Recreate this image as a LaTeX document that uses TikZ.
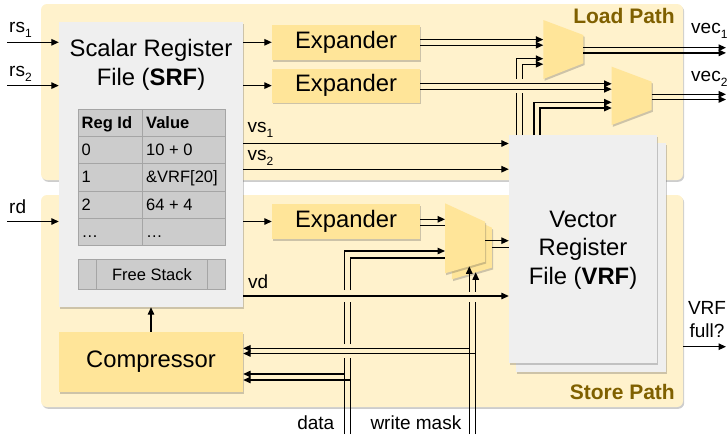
\documentclass[tikz,border=0pt]{standalone}
\usepackage{fontspec}
\setmainfont{Liberation Sans}
\usetikzlibrary{arrows.meta,shadows,calc}
\definecolor{cPanel}{HTML}{FFF2CC}
\definecolor{cYel}{HTML}{FFE599}
\definecolor{cGray}{HTML}{EFEFEF}
\definecolor{cTbl}{HTML}{CCCCCC}
\definecolor{cTblLine}{HTML}{A5A5A5}
\definecolor{cPath}{HTML}{7F6000}
\newcommand{\sbs}[1]{\raisebox{-5pt}{\fontsize{12}{12}\selectfont #1}}
\tikzset{
 shd/.style={drop shadow={shadow xshift=1.2pt,shadow yshift=-1.8pt,opacity=0.28,fill=black!70}},
 panelbox/.style={rectangle, rounded corners=6pt, fill=cPanel, inner sep=0pt, shd},
 graybox/.style={rectangle, fill=cGray, inner sep=0pt, shd},
 yelbox/.style={rectangle, fill=cYel, inner sep=0pt, shd, font=\fontsize{23.8}{29}\selectfont},
 wire/.style={line width=1.3pt, black},
 arr/.style={wire, -{Triangle[length=7.5pt,width=6.5pt]}},
 big/.style={font=\fontsize{23.8}{29}\selectfont, inner sep=0pt},
 lbl/.style={font=\fontsize{19}{23}\selectfont, inner sep=0pt, anchor=base west},
 tab/.style={font=\fontsize{16.5}{20}\selectfont, inner sep=0pt, anchor=base west},
 plbl/.style={font=\fontsize{21}{25}\selectfont\bfseries, text=cPath, inner sep=0pt, anchor=base east},
 tline/.style={draw=cTblLine, line width=1pt},
}
\begin{document}
\begin{tikzpicture}[x=1pt,y=-1pt]
\useasboundingbox (0,0) rectangle (727,434);
% panels
\node[panelbox, minimum width=642pt, minimum height=176pt] (load) at (362,92) {};
\node[panelbox, minimum width=642pt, minimum height=212pt] (store) at (362,301) {};
\node[plbl] (loadlbl) at (675,23) {Load Path};
\node[plbl] (storelbl) at (675,399) {Store Path};

% SRF
\node[graybox, minimum width=184pt, minimum height=285pt] (srf) at (151,164.5) {};
\node[big, align=center] (srftitle) at (151,65) {Scalar Register\\File (\textbf{SRF})};
% table
\fill[cTbl] (78.3,109.3) rectangle (225.7,245.8);
\draw[tline] (78.3,109.3) rectangle (225.7,245.8);
\foreach \yy in {136.6,163.9,191.2,218.5} \draw[tline] (78.3,\yy) -- (225.7,\yy);
\draw[tline] (142.7,109.3) -- (142.7,245.8);
\node[tab] (h1) at (81.5,128.3) {\textbf{Reg Id}};
\node[tab] (h2) at (146,128.3) {\textbf{Value}};
\node[tab] (r1a) at (81.5,155.6) {0};
\node[tab] (r1b) at (146,155.6) {10 + 0};
\node[tab] (r2a) at (81.5,182.9) {1};
\node[tab] (r2b) at (146,182.9) {\&VRF[20]};
\node[tab] (r3a) at (81.5,210.2) {2};
\node[tab] (r3b) at (146,210.2) {64 + 4};
\node[tab] (r4a) at (81.5,237.5) {…};
\node[tab] (r4b) at (146,237.5) {…};
% free stack
\fill[cTbl] (78.3,259) rectangle (225.7,289.3);
\draw[tline] (78.3,259) rectangle (225.7,289.3);
\draw[tline] (96.7,259) -- (96.7,289.3);
\draw[tline] (207.3,259) -- (207.3,289.3);
\node[font=\fontsize{16.5}{20}\selectfont, inner sep=0pt] (fs) at (152,274.5) {Free Stack};

% VRF
\node[graybox, minimum width=150pt, minimum height=229pt] (vrfb) at (591,257.5) {};
\node[graybox, minimum width=148pt, minimum height=228pt] (vrf) at (583,249) {};
\node[big, align=center, font=\fontsize{23.8}{28.3}\selectfont] (vrftitle) at (583,250) {Vector\\Register\\File (\textbf{VRF})};

% yellow boxes
\node[yelbox, minimum width=184pt, minimum height=60pt] (comp) at (151,362) {Compressor};
\node[yelbox, minimum width=148pt, minimum height=35pt] (exp1) at (346,42.3) {Expander};
\node[yelbox, minimum width=148pt, minimum height=34pt] (exp2) at (346,85.6) {Expander};
\node[yelbox, minimum width=148pt, minimum height=35pt] (exp3) at (346,221.5) {Expander};

% muxes
\path[fill=cYel, shd] (543.3,20) -- (583.3,35) -- (583.3,63.3) -- (543.3,79) -- cycle;
\coordinate (m1) at (543.3,50);
\coordinate (m1o) at (583.3,50);
\path[fill=cYel, shd] (611.7,66.7) -- (651.7,81.7) -- (651.7,110) -- (611.7,125) -- cycle;
\coordinate (m2) at (611.7,96);
\coordinate (m2o) at (651.7,96);
\path[fill=cYel, shd] (451.8,209.3) -- (491.8,227.7) -- (491.8,267.7) -- (451.8,279.3) -- cycle;
\path[fill=cYel, shd] (445,203.3) -- (485,221.7) -- (485,261.7) -- (445,273.3) -- cycle;
\coordinate (m3) at (445,240);
\coordinate (m3o) at (485,240);

% inputs
\coordinate (rs1) at (7,42.3);
\coordinate (rs2) at (7,85.6);
\coordinate (rd) at (7,221.5);
\draw[arr] (rs1) -- (rs1 -| srf.west);
\draw[arr] (rs2) -- (rs2 -| srf.west);
\draw[arr] (rd) -- (rd -| srf.west);
\node[lbl] (rs1l) at (9,32) {rs\sbs{1}};
\node[lbl] (rs2l) at (9,76.5) {rs\sbs{2}};
\node[lbl] (rdl) at (9,213) {rd};

% SRF -> expanders
\draw[arr] (exp1.west -| srf.east) -- (exp1.west);
\draw[arr] (exp2.west -| srf.east) -- (exp2.west);
\draw[arr] (exp3.west -| srf.east) -- (exp3.west);

% expander 1 -> mux1
\draw[arr] (exp1.east |- 0,39.6) -- (m1 |- 0,39.6);
\draw[arr] (exp1.east |- 0,45.2) -- (m1 |- 0,45.2);
% expander 2 -> mux2
\draw[arr] (exp2.east |- 0,83.8) -- (m2 |- 0,83.8);
\draw[arr] (exp2.east |- 0,89.2) -- (m2 |- 0,89.2);
% VRF -> mux1 (bent, bridged over exp2 lines)
\draw[wire] (516.7,135) -- (516.7,93);
\draw[arr] (516.7,79) -- (516.7,58.7) -- (m1 |- 0,58.7);
\draw[wire] (522.3,135) -- (522.3,93);
\draw[arr] (522.3,79) -- (522.3,64.2) -- (m1 |- 0,64.2);
% VRF -> mux2
\draw[arr] (534,135) -- (534,102.3) -- (m2 |- 0,102.3);
\draw[arr] (540,135) -- (540,108) -- (m2 |- 0,108);
% mux outputs
\coordinate (vec1) at (726,47.7);
\coordinate (vec2) at (726,94.3);
\draw[arr] (m1o |- 0,47.7) -- (vec1);
\draw[arr] (m1o |- 0,52.9) -- (vec1 |- 0,52.9);
\draw[arr] (m2o |- 0,94.3) -- (vec2);
\draw[arr] (m2o |- 0,99.5) -- (vec2 |- 0,99.5);
\node[lbl] (vec1l) at (691,33.3) {vec\sbs{1}};
\node[lbl] (vec2l) at (691,81) {vec\sbs{2}};

% vs lines
\draw[arr] (srf.east |- 0,143.5) -- (vrf.west |- 0,143.5);
\draw[arr] (srf.east |- 0,169.2) -- (vrf.west |- 0,169.2);
\node[lbl] (vs1l) at (247.5,132.3) {vs\sbs{1}};
\node[lbl] (vs2l) at (247.5,160.7) {vs\sbs{2}};

% vd
\draw[arr] (srf.east |- 0,296) -- (vrf.west |- 0,296);
\node[lbl] (vdl) at (248,288.3) {vd};

% expander 3 -> store mux
\draw[arr] (exp3.east |- 0,219.3) -- (m3 |- 0,219.3);
\draw[wire] (exp3.east |- 0,225.5) -- (m3 |- 0,225.5);
% store mux -> VRF
\draw[arr] (m3o |- 0,240.7) -- (vrf.west |- 0,240.7);
\draw[wire] (491.8,247.3) -- (vrf.west |- 0,247.3);

% data lines (bridged)
\coordinate (dataA) at (344.3,434);
\coordinate (dataB) at (350.7,434);
\draw[wire] (dataA) -- (344.3,358);
\draw[wire] (344.3,344) -- (344.3,301.7);
\draw[arr] (344.3,290) -- (344.3,251) -- (m3 |- 0,251);
\draw[wire] (dataB) -- (350.7,358);
\draw[wire] (350.7,344) -- (350.7,301.7);
\draw[wire] (350.7,290) -- (350.7,258) -- (m3 |- 0,258);
\draw[arr] (344.3,374) -- (comp.east |- 0,374);
\draw[arr] (350.7,380) -- (comp.east |- 0,380);

% write mask lines (bridged at vd)
\coordinate (wmA) at (469.3,434);
\coordinate (wmB) at (475.7,434);
\draw[wire] (wmA) -- (469.3,301.7);
\draw[arr] (469.3,291.7) -- (469.3,266.3);
\draw[wire] (wmB) -- (475.7,301.7);
\draw[arr] (475.7,291.7) -- (475.7,272.3);
\draw[arr] (469.3,348.3) -- (comp.east |- 0,348.3);
\draw[arr] (475.7,353.5) -- (comp.east |- 0,353.5);

% compressor -> SRF
\draw[arr] (comp.north) -- (srf.south);

% VRF full
\coordinate (full) at (726,346.7);
\draw[arr] (store.east |- full) -- (full);
\node[font=\fontsize{19}{23.5}\selectfont, align=center, inner sep=0pt] (fulll) at (707,319.5) {VRF\\full?};

% bottom labels
\node[lbl, anchor=base east] (datal) at (334.5,429) {data};
\node[lbl, anchor=base east] (wml) at (461.5,429) {write mask};
\end{tikzpicture}
\end{document}
